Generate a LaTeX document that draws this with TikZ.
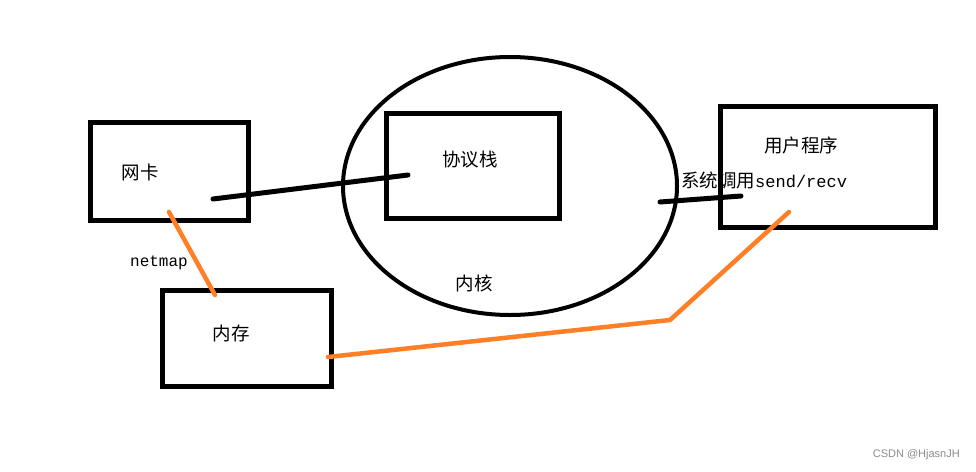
\documentclass[tikz,border=0pt]{standalone}
\usepackage{fontspec}
\newfontfamily\cjk{Noto Sans CJK SC}
\newfontfamily\monof{Liberation Mono}
\newfontfamily\wmfont{Liberation Sans}
\usetikzlibrary{shapes.geometric}
\definecolor{orangeline}{RGB}{255,127,39}
\begin{document}
\begin{tikzpicture}[x=1pt,y=-1pt,
  boxn/.style={draw=black,line width=5pt,inner sep=0pt},
  cn/.style={font=\cjk\fontsize{18.5}{18.5}\selectfont,inner sep=0pt,anchor=center},
  mono/.style={font=\monof\fontsize{16}{16}\selectfont,inner sep=0pt},
  blk/.style={draw=black,line width=5pt,line cap=round},
  org/.style={draw=orangeline,line width=4.5pt,line cap=round,line join=round}]
\useasboundingbox[fill=white] (0,0) rectangle (976,471);
% boxes
\node[boxn,minimum width=158pt,minimum height=98pt] (nic) at (169,171) {};
\node[boxn,minimum width=173pt,minimum height=105pt] (stack) at (472.5,165.5) {};
\node[boxn,minimum width=215pt,minimum height=121pt] (user) at (827.5,166.5) {};
\node[boxn,minimum width=169pt,minimum height=96pt] (mem) at (246.5,338) {};
\node[draw=black,line width=4pt,ellipse,minimum width=334pt,minimum height=258pt,inner sep=0pt] (kernel) at (510,186) {};
% texts
\node[cn] (tnic) at (140,172) {网卡};
\node[cn] (tstack) at (470,160) {协议栈};
\node[cn] (tkernel) at (474,283) {内核};
\node[cn] (tuser) at (801,145) {用户程序};
\node[cn] (tmem) at (231,333) {内存};
\node[inner sep=0pt,anchor=west] (tsys) at (681,180) {\cjk\fontsize{18.5}{18.5}\selectfont 系统调用\monof\fontsize{17}{17}\selectfont send/recv};
\node[mono] (tnetmap) at (159,263) {netmap};
\node[font=\wmfont\fontsize{11}{11}\selectfont,text=black!45,inner sep=0pt,anchor=east] (wm) at (960,455) {CSDN @HjasnJH};
% connector endpoints
\coordinate (a1) at (213,199);
\coordinate (a2) at (408,175);
\coordinate (b1) at (660,202);
\coordinate (b2) at (741,196);
\coordinate (c1) at (169,212);
\coordinate (c2) at (215,295);
\coordinate (d1) at (328,357);
\coordinate (d2) at (670,320);
\coordinate (d3) at (789,212);
\draw[blk] (a1) -- (a2);
\draw[blk] (b1) -- (b2);
\draw[org] (c1) -- (c2);
\draw[org] (d1) -- (d2) -- (d3);
\end{tikzpicture}
\end{document}
